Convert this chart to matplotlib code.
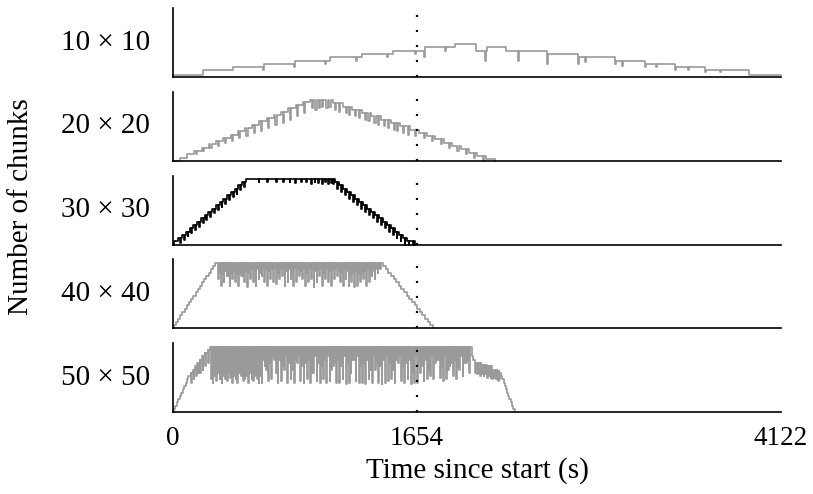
import numpy as np
import matplotlib
matplotlib.use('Agg')
import matplotlib.pyplot as plt

plt.rcParams['font.family'] = ['Liberation Serif', 'DejaVu Serif']
plt.rcParams['lines.scale_dashes'] = False

# ---------------- data ----------------
labels = ['10 × 10', '20 × 20', '30 × 30', '40 × 40', '50 × 50']
x_ticks = [0, 1654, 4122]
t_end = 4122
t_marker = 1654

# 10 x 10 (step changes: time, chunks)
t_10 = [0, 203, 407, 610, 617, 820, 827, 1030, 1037, 1064, 1240, 1247, 1281, 1450, 1457,
        1492, 1641, 1648, 1702, 1709, 1844, 1851, 1912, 2054, 2115, 2122, 2129, 2258, 2339,
        2346, 2536, 2543, 2746, 2753, 2790, 2797, 2997, 3004, 3044, 3051, 3200, 3207, 3275,
        3282, 3404, 3411, 3492, 3499, 3607, 3614, 3709, 3716, 3905, 4122]
n_10 = [0.5, 2, 3, 2, 4, 3, 5, 4, 5, 6, 5, 6, 7, 6, 7,
        8, 7, 8, 6, 9, 8, 9, 10, 8, 5, 8, 9, 8, 5,
        8, 4, 7, 4, 6, 4.5, 6, 4, 5, 3.5, 5, 3, 4, 3,
        4, 2, 3, 2, 3, 1.5, 2, 1.5, 2, 0.5, 0.5]

# 20 x 20
t_20 = [0, 47, 96, 145, 194, 243, 292, 341, 390, 439, 488, 537, 586, 635, 684, 733, 782, 831,
        880, 929, 1085, 1150, 1215, 1280, 1345, 1410, 1475, 1540, 1605, 1665, 1722, 1779,
        1836, 1893, 1950, 2007, 2064, 2121, 2183]
n_20 = [0, 1, 2, 3, 4, 5, 6, 7, 8, 9, 10, 11, 12, 13, 14, 15, 16, 17,
        18, 18.5, 17.5, 16.5, 15.5, 14.5, 13.5, 12.5, 11.5, 10.5, 9.5, 8.5, 7.5, 6.5,
        5.5, 4.5, 3.5, 2.5, 1.5, 0.5, 0]
dip_t_20 = [155, 204, 253, 302, 351, 400, 449, 498, 547, 596, 645, 694, 743, 792, 841, 890,
            940, 965, 990, 1010, 1040, 1060, 1100, 1125, 1170, 1195, 1235, 1260, 1300, 1325,
            1365, 1390, 1430, 1455, 1495, 1520, 1560, 1590, 1640, 1700, 1757, 1814, 1871,
            1928, 1985, 2042, 2099]
dip_n_20 = [2, 3, 4, 4.5, 5.5, 6, 7, 7.5, 8.5, 9, 10, 11, 11.5, 12.5, 13.5, 14.5,
            16, 15.5, 16, 16.5, 16, 16.5, 15.5, 15, 14.5, 14, 13.5, 13, 12.5, 12,
            11.5, 11, 10.5, 10, 9.5, 9, 8.5, 8, 7.5, 7, 6, 5, 4,
            3, 2, 1, 0]

# 30 x 30
t_30 = [0, 10, 36, 61, 87, 112, 138, 163, 189, 214, 240, 265, 291, 316, 342, 367, 393, 418,
        444, 469, 495, 1098, 1125, 1152, 1179, 1206, 1233, 1260, 1287, 1314, 1341, 1368,
        1395, 1422, 1449, 1476, 1503, 1530, 1557, 1584, 1641]
n_30 = [0, 1, 2, 3, 4, 5, 6, 7, 8, 9, 10, 11, 12, 13, 14, 15, 16, 17,
        18, 19, 20, 19, 18, 17, 16, 15, 14, 13, 12, 11, 10, 9,
        8, 7, 6, 5, 4, 3, 2, 1, 0]
dip_t_30 = [48, 74, 99, 125, 150, 176, 201, 227, 252, 278, 303, 329, 354, 380, 405, 431, 456, 482,
            580, 640, 700, 745, 790, 830, 870, 905, 935, 960, 985, 1010, 1030, 1050, 1070, 1085,
            1111, 1138, 1165, 1192, 1219, 1246, 1273, 1300, 1327, 1354, 1381, 1408, 1435,
            1462, 1489, 1516, 1543, 1570, 1597, 1625]
dip_n_30 = [0.5, 1.5, 2.5, 3.5, 4.5, 5.5, 6.5, 7.5, 8.5, 9.5, 10.5, 11.5, 12.5, 13.5, 14.5, 15.5,
            16.5, 17.5,
            19, 19, 19.2, 19, 19, 18.8, 19, 19, 18.5, 19, 18.8, 18.5, 19, 18.5, 18.8, 18.5,
            17, 16, 15, 14, 13, 12, 11, 10, 9, 8, 7, 6, 5,
            4, 3, 2, 1, 0, 0, 0]

# 40 x 40
t_40 = [0, 5, 20, 35, 49, 64, 79, 94, 109, 123, 138, 153, 168, 183, 197, 212, 227, 242, 257,
        271, 286, 1424, 1442, 1460, 1477, 1495, 1513, 1531, 1549, 1566, 1584, 1602, 1620,
        1638, 1655, 1673, 1691, 1709, 1727, 1744, 1763]
n_40 = [0, 1, 2, 3, 4, 5, 6, 7, 8, 9, 10, 11, 12, 13, 14, 15, 16, 17, 18,
        19, 20, 19, 18, 17, 16, 15, 14, 13, 12, 11, 10, 9, 8,
        7, 6, 5, 4, 3, 2, 1, 0]
dip_t_40 = [305, 325, 344, 364, 384, 403, 423, 443, 462, 482, 502, 521, 541, 561, 580, 600,
            620, 639, 659, 679, 698, 718, 738, 757, 777, 797, 816, 836, 856, 875, 895, 915,
            934, 954, 974, 993, 1013, 1033, 1052, 1072, 1092, 1111, 1131, 1151, 1170, 1190,
            1210, 1229, 1249, 1269, 1288, 1308, 1328, 1347, 1367, 1387, 1406,
            315, 334, 354, 374, 393, 413, 433, 452, 472, 492, 511, 531, 551, 570, 590, 610,
            629, 649, 669, 688, 708, 728, 747, 767, 787, 806, 826, 846, 865, 885, 905, 924,
            944, 964, 983, 1003, 1023, 1042, 1062, 1082, 1101, 1121, 1141, 1160, 1180, 1200,
            1219, 1239, 1259, 1278, 1298, 1318, 1337, 1357, 1377, 1396]
dip_n_40 = [15, 13, 14, 16, 13, 15, 14, 13, 16, 14,
            12.5, 15, 14, 13, 15, 16, 14, 13, 15, 14,
            13.5, 15, 16, 13, 14, 15, 13, 14, 16, 15,
            13, 14, 15, 12.5, 14, 16, 13, 15, 14, 13,
            15, 16, 14, 13, 15, 13, 14, 12.5, 13, 14,
            15, 13, 14, 16, 15, 17, 18,
            17, 16.5, 17.5, 16, 17, 17.5, 16.5, 17, 16, 17.5,
            17, 18, 17.5, 18, 17, 18.5, 18, 17.5, 18, 18.5,
            17, 18, 18.5, 17.5, 18, 17, 18.5, 18, 17.5, 18,
            17, 18.5, 18, 17.5, 18, 18.5, 17, 18, 17.5, 18,
            18.5, 17.5, 17, 18, 17.5, 16.5, 17, 17.5, 16.5, 17,
            17.5, 18, 17, 17.5, 18, 18.5]

# 50 x 50
t_50 = [0, 5, 15, 25, 35, 45, 55, 65, 75, 85, 95, 105, 120, 135, 150, 165, 180, 195, 215,
        235, 251, 2025, 2030, 2037, 2045, 2090, 2130, 2170, 2200, 2217, 2225, 2233, 2241,
        2249, 2257, 2265, 2273, 2281, 2289, 2297, 2305, 2319]
n_50 = [0, 1, 2, 3, 4, 5, 6, 7, 8, 9, 10, 11, 12, 13, 14, 15, 16, 17, 18,
        19, 20, 19, 17, 16, 15, 14.5, 14, 13, 12.5, 12, 11, 10, 9,
        8, 7, 6, 5, 4, 3, 2, 1, 0]
dip_t_50 = [125, 140, 155, 170, 185, 200, 220, 240,
            257, 269, 281, 293, 305, 317, 329, 341, 353, 365, 377, 389, 401, 413, 425, 437,
            449, 461, 473, 485, 497, 509, 521, 533, 545, 557, 569, 581, 590,
            600, 622, 644, 666, 688, 710, 732, 754, 776, 798, 820, 842, 864, 886, 908, 930,
            952, 974, 996, 1018, 1040, 1062, 1084, 1106, 1128, 1150, 1172, 1194, 1216, 1238,
            1260, 1282, 1304, 1326, 1348, 1370, 1392, 1414, 1436, 1458, 1480, 1502, 1524,
            1546, 1568, 1590, 1612, 1634, 1656, 1678, 1700, 1722, 1744, 1766, 1788, 1810,
            1832, 1854, 1876, 1898, 1920, 1942, 1964, 1986, 2008,
            2050, 2060, 2070, 2082, 2094, 2106, 2118, 2130, 2142, 2154, 2166, 2178, 2190,
            2202, 2212,
            611, 633, 655, 677, 699, 721, 743, 765, 787, 809, 831, 853, 875, 897, 919, 941,
            963, 985, 1007, 1029, 1051, 1073, 1095, 1117, 1139, 1161, 1183, 1205, 1227, 1249,
            1271, 1293, 1315, 1337, 1359, 1381, 1403, 1425, 1447, 1469, 1491, 1513, 1535,
            1557, 1579, 1601, 1623, 1645, 1667, 1689, 1711, 1733, 1755, 1777, 1799, 1821,
            1843, 1865, 1887, 1909, 1931, 1953, 1975, 1997]
dip_n_50 = [9, 10, 11, 12, 12, 13, 14, 15,
            10, 9, 11, 9.5, 12, 10, 9, 11, 10, 9.5, 12, 10.5, 9, 11, 10, 9,
            12, 11, 9.5, 10, 11, 9, 12, 10, 9.5, 11, 10, 9, 11,
            9, 14, 9.5, 10, 16, 9, 9.5, 13, 9, 10, 9, 15, 9.5, 9, 10, 9,
            12, 9.5, 9, 10, 9, 9.5, 14, 9, 9, 10, 8.5, 9, 16, 9.5,
            9, 9, 8.5, 10, 9, 13, 9, 8.5, 9, 9.5, 10, 9, 15,
            9.5, 9, 10, 8.5, 9, 9, 12, 9.5, 10, 11, 10, 16,
            10.5, 9.5, 10, 14, 11, 10, 13, 11, 15, 12,
            12, 11.5, 12, 11, 11.5, 11, 11.5, 10.5, 11, 10.5, 10, 10.5, 10,
            9.5, 10,
            16, 13, 15, 17, 12, 16, 14, 17, 15, 13, 16, 17, 14, 15, 16, 12,
            17, 15, 14, 16, 17, 13, 15, 16, 14, 17, 15, 12, 16, 17,
            14, 15, 16, 13, 17, 15, 14, 16, 17, 15, 13, 16, 17,
            14, 15, 16, 12, 17, 15, 14, 16, 13, 17, 15, 16, 14,
            17, 13, 15, 16, 14, 17, 15, 16]

series = [
    (t_10, n_10, [], [], 6, '#9a9a9a'),
    (t_20, n_20, dip_t_20, dip_n_20, 8, '#9a9a9a'),
    (t_30, n_30, dip_t_30, dip_n_30, 6, 'black'),
    (t_40, n_40, dip_t_40, dip_n_40, 5, '#9a9a9a'),
    (t_50, n_50, dip_t_50, dip_n_50, 5, '#9a9a9a'),
]


def merge_dips(t, n, dt, dn, width):
    t = np.asarray(t, float)
    n = np.asarray(n, float)
    pts = list(zip(t, n))
    for td, nd in zip(dt, dn):
        after = td + width
        idx = np.searchsorted(t, after, side='right') - 1
        pts.append((td, nd))
        pts.append((after, n[idx]))
    pts.sort(key=lambda p: p[0])
    tt, nn = zip(*pts)
    return np.array(tt), np.array(nn)


# ---------------- figure ----------------
fig, axes = plt.subplots(5, 1, figsize=(8.13, 4.94), dpi=100, sharex=True)
fig.subplots_adjust(left=0.2128, right=0.9606, bottom=0.1654, top=0.9838, hspace=0.214)

for ax, lab, (t, n, dt, dn, w, col) in zip(axes, labels, series):
    tt, nn = merge_dips(t, n, dt, dn, w)
    ax.plot(tt, nn, drawstyle='steps-post', color=col, lw=1.2, clip_on=False, zorder=2)
    ax.axvline(t_marker, color='black', lw=1.6, linestyle=(0, (1.5, 9.3)), zorder=3)
    ax.set_xlim(0, t_end)
    ax.set_ylim(0, 21)
    ax.set_yticks([])
    for s in ('top', 'right'):
        ax.spines[s].set_visible(False)
    for s in ('left', 'bottom'):
        ax.spines[s].set_linewidth(1.2)
    ax.tick_params(axis='x', length=0, pad=10, labelsize=19.5)
    ax.annotate(lab, xy=(0, 0.5), xycoords='axes fraction', xytext=(-16.5, 0),
                textcoords='offset points', ha='right', va='center', fontsize=21)

axes[-1].set_xticks(x_ticks)
axes[-1].set_xticklabels([str(v) for v in x_ticks])
axes[-1].set_xlabel('Time since start (s)', fontsize=21, labelpad=4)
fig.text(21 / 813, 1 - 207 / 494, 'Number of chunks', rotation=90, ha='center', va='center',
         fontsize=21)

fig.savefig('out.png', dpi=100)
